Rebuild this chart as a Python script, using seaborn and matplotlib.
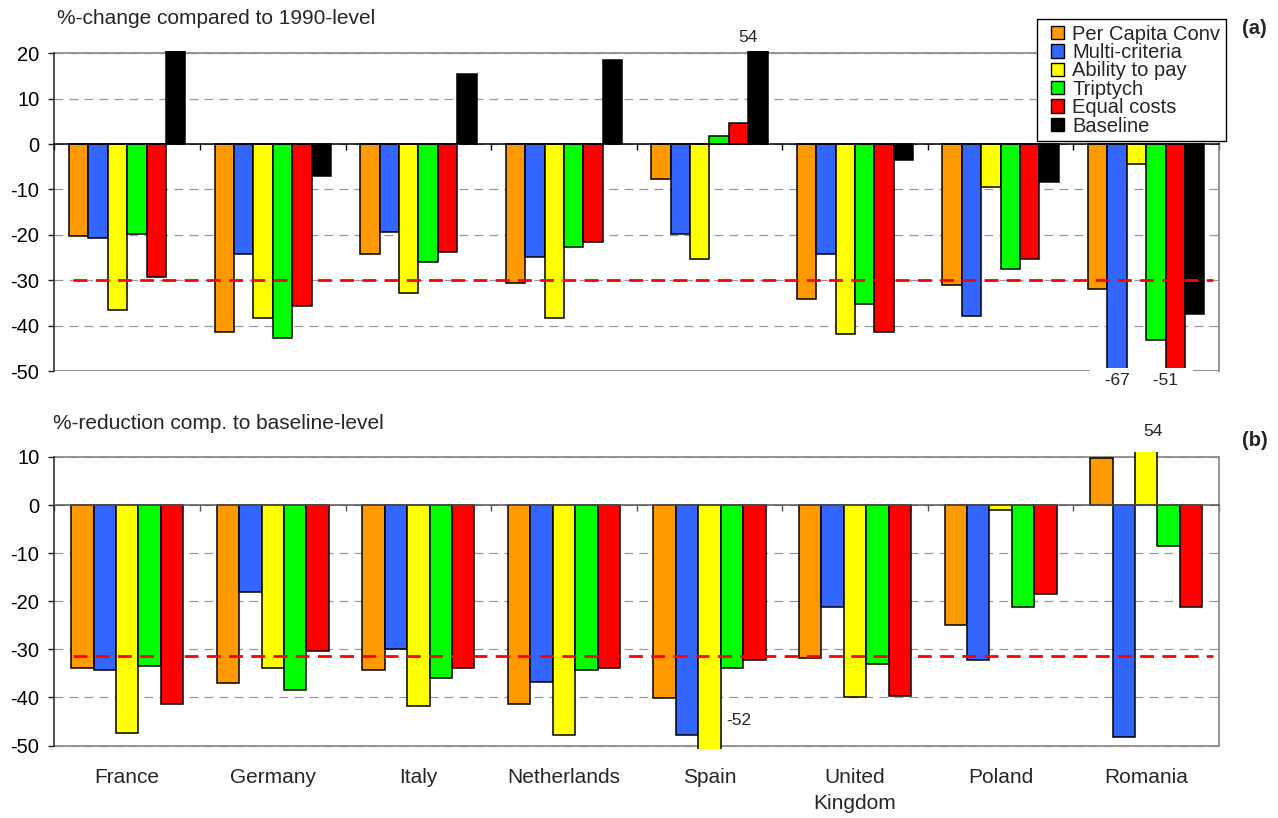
import numpy as np
import pandas as pd
import matplotlib
matplotlib.use("Agg")
import matplotlib.pyplot as plt
import matplotlib.patches as mpatches
from matplotlib.legend_handler import HandlerPatch
import seaborn as sns

countries = ["France", "Germany", "Italy", "Netherlands", "Spain",
             "United\nKingdom", "Poland", "Romania"]
methods = ["Per Capita Conv", "Multi-criteria", "Ability to pay",
           "Triptych", "Equal costs", "Baseline"]
colors = ["#FF9900", "#3366FF", "#FFFF00", "#00FF00", "#FF0000", "#000000"]

# (a) %-change compared to 1990-level
pcc_a = [-20.2, -41.3, -24.1, -30.6, -7.8, -34.0, -31.0, -31.9]
mc_a = [-20.7, -24.1, -19.3, -24.9, -19.8, -24.1, -37.9, -67]
atp_a = [-36.6, -38.3, -32.7, -38.3, -25.4, -41.8, -9.5, -4.3]
trip_a = [-19.8, -42.6, -25.9, -22.7, 1.7, -35.2, -27.6, -43.1]
eq_a = [-29.2, -35.7, -23.7, -21.6, 4.7, -41.3, -25.4, -51]
base_a = [20.6, -7.1, 15.5, 18.5, 54, -3.6, -8.3, -37.5]
target_a = -30

# (b) %-reduction compared to baseline-level
pcc_b = [-33.9, -36.9, -34.4, -41.4, -40.1, -31.9, -24.9, 9.8]
mc_b = [-34.4, -18.0, -29.9, -36.8, -47.8, -21.2, -32.3, -48.3]
atp_b = [-47.5, -33.9, -41.7, -47.8, -52, -40.0, -1.1, 54]
trip_b = [-33.5, -38.4, -36.0, -34.4, -33.9, -33.1, -21.2, -8.5]
eq_b = [-41.4, -30.3, -33.9, -33.9, -32.2, -39.8, -18.4, -21.2]
target_b = -31.3


def long_form(series):
    rows = []
    for method, vals in zip(methods, series):
        for c, v in zip(countries, vals):
            rows.append((c, method, v))
    return pd.DataFrame(rows, columns=["country", "method", "value"])


df_a = long_form([pcc_a, mc_a, atp_a, trip_a, eq_a, base_a])
df_b = long_form([pcc_b, mc_b, atp_b, trip_b, eq_b])

sns.set_theme(style="white")
plt.rcParams["font.family"] = ["Liberation Sans", "DejaVu Sans"]
plt.rcParams["axes.unicode_minus"] = False

FS = 14.5
GRID = "#999999"
FRAME = "#8c8c8c"

fig = plt.figure(figsize=(12.78, 8.18), dpi=100)
ax_a = fig.add_axes([0.0426, 0.5462, 0.9112, 0.3916])
ax_b = fig.add_axes([0.0426, 0.0845, 0.9112, 0.3628])


def style_axes(ax, ylo, yhi, fr_lo, fr_hi, zero_color):
    ax.set_xlim(-0.5, len(countries) - 0.5)
    ax.set_ylim(ylo, yhi)
    ticks = np.arange(fr_lo, fr_hi + 1, 10)
    ax.set_yticks(ticks)
    ax.set_yticklabels([f"{t:g}" for t in ticks])
    ax.set_axisbelow(True)
    ax.yaxis.grid(True, color=GRID, linewidth=0.9, linestyle=(0, (7, 5)))
    ax.xaxis.grid(False)
    ax.set_xlabel("")
    ax.set_ylabel("")
    # category axis crossing at zero with ticks between groups
    ax.spines["bottom"].set_position(("data", 0))
    ax.spines["bottom"].set_color(zero_color)
    ax.spines["bottom"].set_linewidth(1.1)
    ax.spines["bottom"].set_zorder(3)
    ax.set_xticks(np.arange(len(countries) + 1) - 0.5)
    ax.set_xticklabels([])
    ax.tick_params(axis="x", bottom=True, direction="out", length=4.3,
                   width=1, color=zero_color)
    ax.spines["left"].set_bounds(fr_lo, fr_hi)
    ax.spines["left"].set_color("#222222")
    ax.spines["left"].set_linewidth(1.1)
    ax.spines["right"].set_bounds(fr_lo, fr_hi)
    ax.spines["right"].set_color(FRAME)
    ax.spines["right"].set_linewidth(1.3)
    ax.spines["top"].set_visible(False)
    for yv in (fr_lo, fr_hi):
        ax.axhline(yv, color=FRAME, linewidth=1.3, zorder=0.9)
    ax.tick_params(axis="y", left=True, direction="out", length=4.3, width=1,
                   color="#222222", pad=6.5, labelsize=FS, labelcolor="black")


def square_handle(legend, orig_handle, xdescent, ydescent, width, height,
                  fontsize):
    side = height
    return mpatches.Rectangle((width - side - xdescent, -ydescent), side, side)


# ---- panel (a)
sns.barplot(data=df_a, x="country", y="value", hue="method", order=countries,
            hue_order=methods, palette=colors, saturation=1, width=0.8,
            errorbar=None, edgecolor="black", linewidth=1.1, ax=ax_a)
style_axes(ax_a, -50, 20.5, -50, 20, "black")
ax_a.hlines(target_a, -0.37, 7.46, colors="#FF0000", linewidth=2.0,
            linestyles=(0, (5, 3)), zorder=4)

handles, labels = ax_a.get_legend_handles_labels()
leg = ax_a.legend(handles, labels, loc="upper right",
                  bbox_to_anchor=(1226 / 1278, 1 - 19 / 818),
                  bbox_transform=fig.transFigure, fontsize=FS, frameon=True,
                  fancybox=False, framealpha=1, edgecolor="black",
                  handlelength=1.1, handleheight=0.65, handletextpad=0.4,
                  labelspacing=-0.03, borderpad=0.28, borderaxespad=0,
                  handler_map={mpatches.Rectangle:
                               HandlerPatch(patch_func=square_handle)})
leg.get_frame().set_linewidth(1.0)
leg.set_zorder(10)
for h in leg.get_patches():
    h.set_edgecolor("black")
    h.set_linewidth(1.0)

# value labels for bars running off the scale
spain = countries.index("Spain")
romania = countries.index("Romania")
bar = ax_a.containers[methods.index("Baseline")][spain]
bx = bar.get_x() + bar.get_width() / 2
ax_a.text(bx - 0.07, 23.4, f"{base_a[spain]:g}", ha="center", va="center",
          fontsize=12.5)
bar = ax_a.containers[methods.index("Multi-criteria")][romania]
bx = bar.get_x() + bar.get_width() / 2
ax_a.text(bx, -52.1, f"  {mc_a[romania]:g}  ", ha="center", va="center",
          fontsize=12.5, zorder=6,
          bbox=dict(boxstyle="square,pad=0.3", facecolor="white",
                    edgecolor="none"))
bar = ax_a.containers[methods.index("Equal costs")][romania]
bx = bar.get_x() + bar.get_width() / 2
ax_a.text(bx - 0.07, -52.1, f"  {eq_a[romania]:g}  ", ha="center",
          va="center", fontsize=12.5, zorder=6,
          bbox=dict(boxstyle="square,pad=0.3", facecolor="white",
                    edgecolor="none"))

# ---- panel (b)
sns.barplot(data=df_b, x="country", y="value", hue="method", order=countries,
            hue_order=methods[:5], palette=colors[:5], saturation=1,
            width=0.77, errorbar=None, edgecolor="black", linewidth=1.1,
            ax=ax_b, legend=False)
style_axes(ax_b, -50.7, 11.0, -50, 10, "#555555")
ax_b.hlines(target_b, -0.37, 7.46, colors="#FF0000", linewidth=2.0,
            linestyles=(0, (5, 3)), zorder=4)

bar = ax_b.containers[methods.index("Ability to pay")][spain]
ax_b.text(bar.get_x() + bar.get_width() + 0.04, -44.9,
          f"{atp_b[spain]:g}", ha="left", va="center", fontsize=12.5)
bar = ax_b.containers[methods.index("Ability to pay")][romania]
ax_b.text(bar.get_x() + bar.get_width() / 2 + 0.05, 15.2,
          f"{atp_b[romania]:g}", ha="center", va="center", fontsize=12.5)

for i, name in enumerate(countries):
    ax_b.annotate(name, xy=(i, 0), xycoords=("data", "axes fraction"),
                  xytext=(0, -13.5), textcoords="offset points", ha="center",
                  va="top", fontsize=FS + 0.5, linespacing=1.5)

# panel titles and tags
fig.text(57 / 1278, 1 - 19 / 818, "%-change compared to 1990-level",
         fontsize=FS + 0.5, va="center", ha="left")
fig.text(53 / 1278, 1 - 424 / 818, "%-reduction comp. to baseline-level",
         fontsize=FS + 0.5, va="center", ha="left")
fig.text(1242 / 1278, 1 - 28 / 818, "(a)", fontsize=FS, fontweight="bold",
         va="center", ha="left")
fig.text(1242 / 1278, 1 - 440 / 818, "(b)", fontsize=FS, fontweight="bold",
         va="center", ha="left")

fig.savefig("out.png", dpi=100)
